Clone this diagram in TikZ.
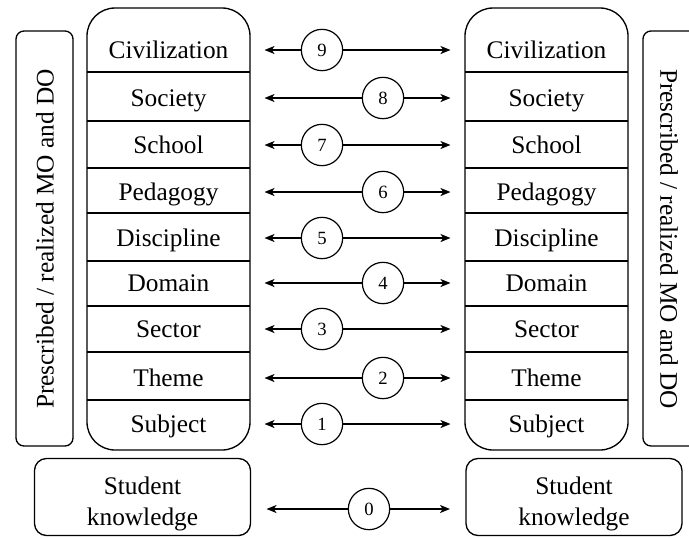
\documentclass[tikz,border=0pt]{standalone}
\usepackage{fontspec}
\setmainfont{Liberation Serif}
\usetikzlibrary{arrows.meta}

\begin{document}
\begin{tikzpicture}[x=0.75pt,y=-0.75pt,
		lvl/.style={minimum width=122pt,inner sep=0pt,outer xsep=11pt,text height=14pt,text depth=2pt,font=\fontsize{19}{23}\selectfont},
		num/.style={circle,draw,fill=white,line width=0.9pt,minimum size=31pt,inner sep=0pt,font=\fontsize{14}{16}\selectfont},
		link/.style={line width=1.2pt,-{Stealth[length=7.5pt,width=6pt,inset=2pt]}},
		studbox/.style={draw,line width=1pt,rounded corners=9pt,minimum width=162pt,minimum height=57pt,align=center,outer xsep=12pt,font=\fontsize{19}{23}\selectfont},
		side/.style={font=\fontsize{19}{23}\selectfont}]
		\useasboundingbox (0,0) rectangle (689,537);
		%%%%% START %%%%%
		\draw[line width=1pt,rounded corners=6pt] (16,31) rectangle (73,446);
		\node[side,rotate=90] (lside) at (45,239) {Prescribed / realized MO and DO};
		\draw[line width=1pt,rounded corners=6pt] (643,31) rectangle (700,446);
		\node[side,rotate=-90] (rside) at (669,239) {Prescribed / realized MO and DO};
		
		\draw[line width=1pt,rounded corners=21pt] (87,8) rectangle (250,450);
		\draw[line width=1.2pt] (87,72) -- (250,72);
		\draw[line width=1.2pt] (87,121) -- (250,121);
		\draw[line width=1.2pt] (87,168) -- (250,168);
		\draw[line width=1.2pt] (87,213) -- (250,213);
		\draw[line width=1.2pt] (87,261) -- (250,261);
		\draw[line width=1.2pt] (87,306) -- (250,306);
		\draw[line width=1.2pt] (87,352) -- (250,352);
		\draw[line width=1.2pt] (87,400) -- (250,400);
		
		\draw[line width=1pt,rounded corners=21pt] (465,8) rectangle (628,450);
		\draw[line width=1.2pt] (465,72) -- (628,72);
		\draw[line width=1.2pt] (465,121) -- (628,121);
		\draw[line width=1.2pt] (465,168) -- (628,168);
		\draw[line width=1.2pt] (465,213) -- (628,213);
		\draw[line width=1.2pt] (465,261) -- (628,261);
		\draw[line width=1.2pt] (465,306) -- (628,306);
		\draw[line width=1.2pt] (465,352) -- (628,352);
		\draw[line width=1.2pt] (465,400) -- (628,400);
		
		\node[lvl] (lciv) at (168.5,50) {Civilization};
		\node[lvl] (lsoc) at (168.5,98) {Society};
		\node[lvl] (lsch) at (168.5,145) {School};
		\node[lvl] (lped) at (168.5,192) {Pedagogy};
		\node[lvl] (ldis) at (168.5,238) {Discipline};
		\node[lvl] (ldom) at (168.5,283) {Domain};
		\node[lvl] (lsec) at (168.5,329) {Sector};
		\node[lvl] (lthe) at (168.5,378) {Theme};
		\node[lvl] (lsub) at (168.5,424) {Subject};
		
		\node[lvl] (rciv) at (546.5,50) {Civilization};
		\node[lvl] (rsoc) at (546.5,98) {Society};
		\node[lvl] (rsch) at (546.5,145) {School};
		\node[lvl] (rped) at (546.5,192) {Pedagogy};
		\node[lvl] (rdis) at (546.5,238) {Discipline};
		\node[lvl] (rdom) at (546.5,283) {Domain};
		\node[lvl] (rsec) at (546.5,329) {Sector};
		\node[lvl] (rthe) at (546.5,378) {Theme};
		\node[lvl] (rsub) at (546.5,424) {Subject};
		
		% strut pushes the two lines a little lower in the box
		\node[studbox] (lstud) at (142.5,497) {\rule{0pt}{24pt}Student\\knowledge};
		\node[studbox] (rstud) at (574,497) {\rule{0pt}{24pt}Student\\knowledge};
		
		\node[num] (n9) at (322,50) {9};
		\node[num] (n8) at (383,98) {8};
		\node[num] (n7) at (322,145) {7};
		\node[num] (n6) at (383,192) {6};
		\node[num] (n5) at (322,238) {5};
		\node[num] (n4) at (383,283) {4};
		\node[num] (n3) at (322,329) {3};
		\node[num] (n2) at (383,378) {2};
		\node[num] (n1) at (322,424) {1};
		\node[num] (n0) at (369,509) {0};
		
		\draw[link] (n9) -- (lciv); \draw[link] (n9) -- (rciv);
		\draw[link] (n8) -- (lsoc); \draw[link] (n8) -- (rsoc);
		\draw[link] (n7) -- (lsch); \draw[link] (n7) -- (rsch);
		\draw[link] (n6) -- (lped); \draw[link] (n6) -- (rped);
		\draw[link] (n5) -- (ldis); \draw[link] (n5) -- (rdis);
		\draw[link] (n4) -- (ldom); \draw[link] (n4) -- (rdom);
		\draw[link] (n3) -- (lsec); \draw[link] (n3) -- (rsec);
		\draw[link] (n2) -- (lthe); \draw[link] (n2) -- (rthe);
		\draw[link] (n1) -- (lsub); \draw[link] (n1) -- (rsub);
		\draw[link] (n0) -- (n0 -| lstud.east); \draw[link] (n0) -- (n0 -| rstud.west);
		%%%%% END %%%%%
	\end{tikzpicture}
\end{document}
